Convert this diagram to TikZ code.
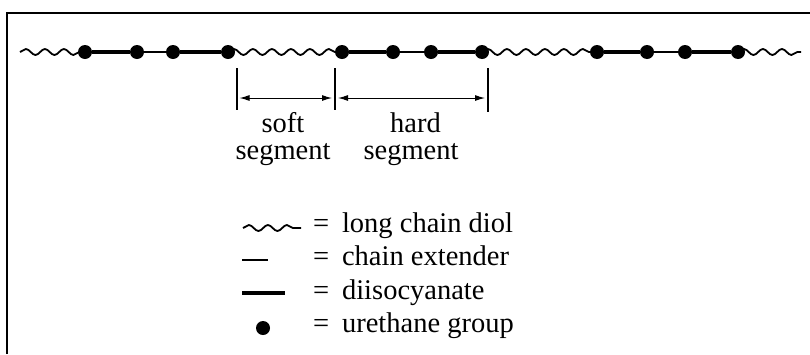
\documentclass[tikz,border=0pt]{standalone}
\usepackage{fontspec}
\setmainfont{Liberation Serif}
\usetikzlibrary{decorations.pathmorphing,arrows.meta}
\begin{document}
\begin{tikzpicture}[x=1pt,y=-1pt,
  dot/.style={circle,fill=black,inner sep=0pt,minimum size=14pt},
  wavy/.style={line width=1.8pt,decorate,decoration={snake,amplitude=3pt,segment length=19pt}},
  thickseg/.style={line width=4.5pt},
  thinseg/.style={line width=1.8pt},
  tick/.style={line width=1.2pt},
  dim/.style={line width=1pt,{Latex[length=10pt,width=6pt]}-{Latex[length=10pt,width=6pt]}},
  lbl/.style={font=\fontsize{28.5}{27}\selectfont,align=center,anchor=center,inner sep=0pt},
  leg/.style={font=\fontsize{28.5}{32}\selectfont,anchor=base west,inner sep=0pt}]
\useasboundingbox (0,0) rectangle (810,354);
% frame
\coordinate (fTL) at (6.7,13);
\coordinate (fTR) at (810,13);
\coordinate (fBL) at (6.7,354);
\draw[line width=2pt] (fBL) -- (fTL) -- (fTR);
% chain
\coordinate (w0) at (20,52);
\coordinate (w1) at (801,52);
\foreach \n/\x in {d1/85,d2/137,d3/173,d4/228,d5/342,d6/393,d7/431,d8/482,d9/597,d10/647,d11/685,d12/738}
  \node[dot] (\n) at (\x,52) {};
\draw[wavy] (w0) -- (d1.center);
\draw[wavy] (d4.center) -- (d5.center);
\draw[wavy] (d8.center) -- (d9.center);
\draw[wavy] (d12.center) -- (w1);
\draw[thickseg] (d1) -- (d2);
\draw[thinseg] (d2) -- (d3);
\draw[thickseg] (d3) -- (d4);
\draw[thickseg] (d5) -- (d6);
\draw[thinseg] (d6) -- (d7);
\draw[thickseg] (d7) -- (d8);
\draw[thickseg] (d9) -- (d10);
\draw[thinseg] (d10) -- (d11);
\draw[thickseg] (d11) -- (d12);
% ticks and dimension arrows
\coordinate (t1a) at (237,68); \coordinate (t1b) at (237,110);
\coordinate (t2a) at (335,68); \coordinate (t2b) at (335,110);
\coordinate (t3a) at (488,68); \coordinate (t3b) at (488,112);
\draw[tick] (t1a) -- (t1b);
\draw[tick] (t2a) -- (t2b);
\draw[tick,line width=1.6pt] (t3a) -- (t3b);
\coordinate (a1) at (239.5,98); \coordinate (a2) at (332,98);
\coordinate (a3) at (338,98); \coordinate (a4) at (485,98);
\draw[dim] (a1) -- (a2);
\draw[dim] (a3) -- (a4);
\node[lbl] (softseg) at (283,139) {soft\\segment};
\node[lbl] (hardseg) at (411,139) {\hspace{9pt}hard\\segment};
% legend
\coordinate (l1a) at (243,228); \coordinate (l1b) at (301,228);
\draw[wavy] (l1a) -- (l1b);
\coordinate (l2a) at (242,260); \coordinate (l2b) at (268,260);
\draw[thinseg] (l2a) -- (l2b);
\coordinate (l3a) at (242,293); \coordinate (l3b) at (285,293);
\draw[thickseg] (l3a) -- (l3b);
\node[dot] (l4) at (263,328) {};
\node[leg] (t1) at (313,232) {=\hspace{0.45em}long chain diol};
\node[leg] (t2) at (313,265) {=\hspace{0.45em}chain extender};
\node[leg] (t3) at (313,299) {=\hspace{0.45em}diisocyanate};
\node[leg] (t4) at (313,332) {=\hspace{0.45em}urethane group};
\end{tikzpicture}
\end{document}
